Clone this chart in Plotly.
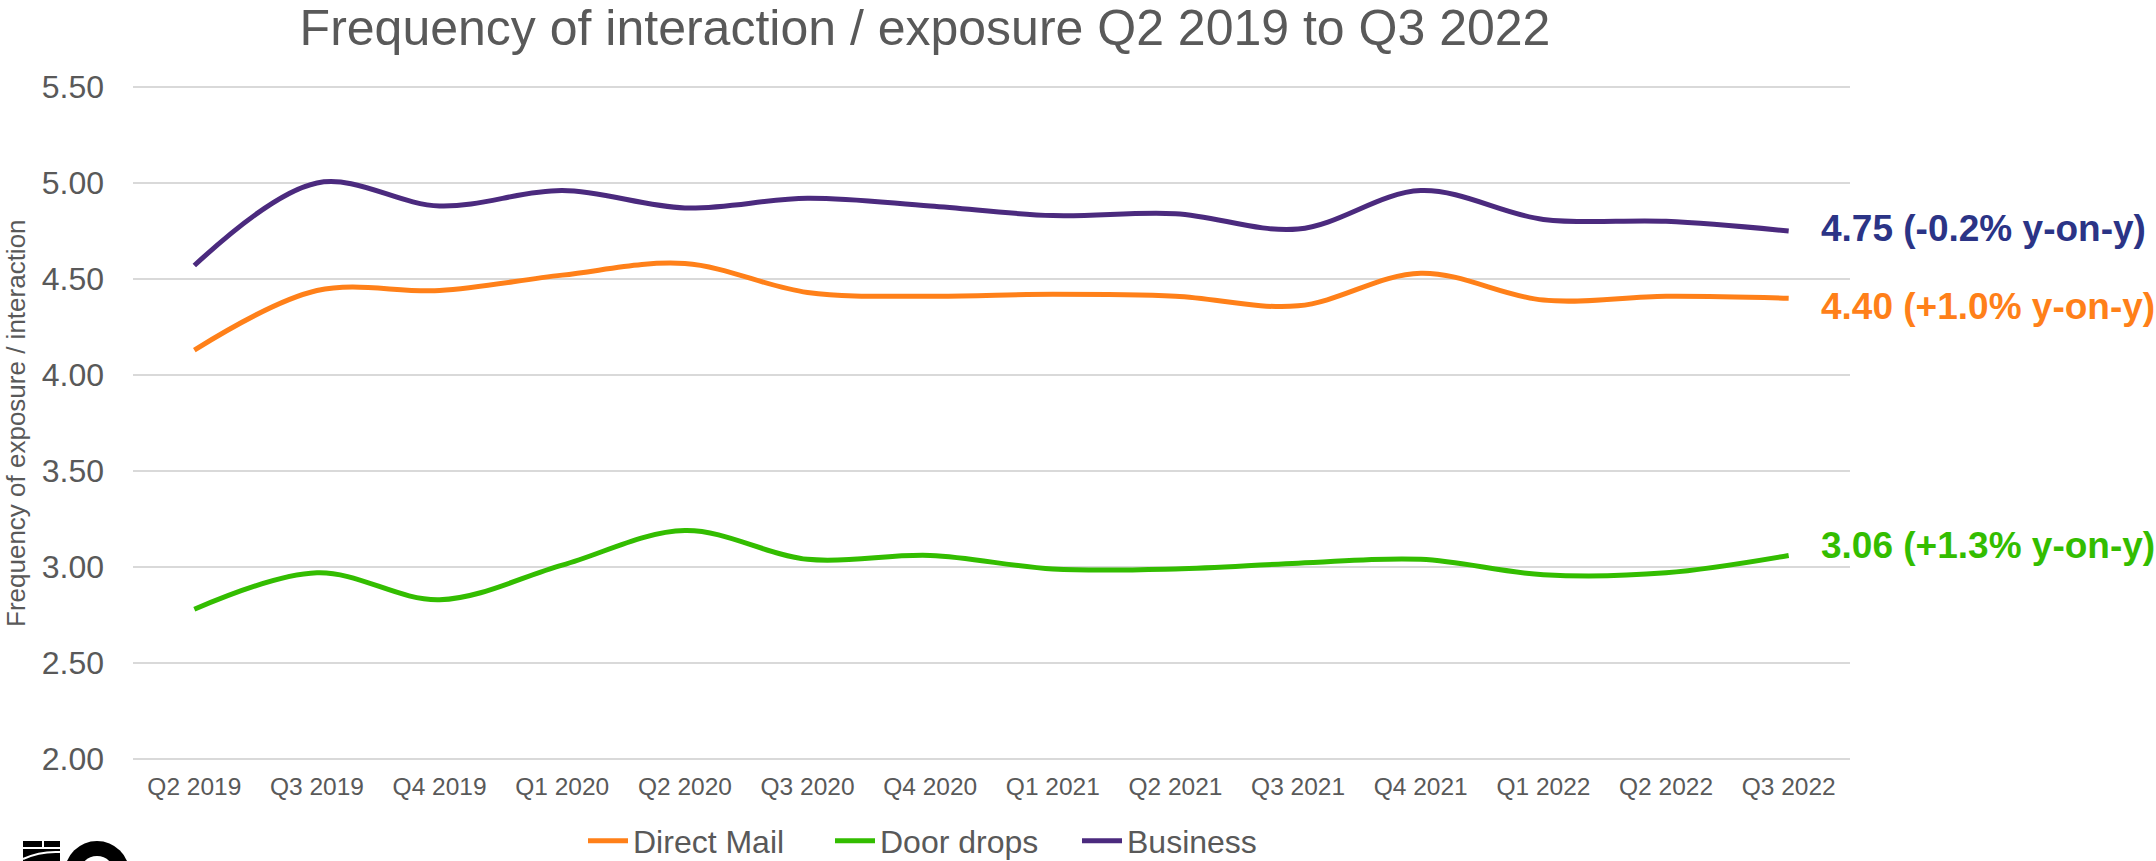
import plotly.graph_objects as go

# Quarterly frequency of interaction / exposure
quarters = ["Q2 2019", "Q3 2019", "Q4 2019", "Q1 2020", "Q2 2020", "Q3 2020", "Q4 2020",
            "Q1 2021", "Q2 2021", "Q3 2021", "Q4 2021", "Q1 2022", "Q2 2022", "Q3 2022"]
direct_mail = [4.13, 4.44, 4.44, 4.52, 4.58, 4.43, 4.41, 4.42, 4.41, 4.36, 4.53, 4.39, 4.41, 4.40]
door_drops = [2.78, 2.97, 2.83, 3.01, 3.19, 3.04, 3.06, 2.99, 2.99, 3.02, 3.04, 2.96, 2.97, 3.06]
business = [4.57, 5.00, 4.88, 4.96, 4.87, 4.92, 4.88, 4.83, 4.84, 4.76, 4.96, 4.81, 4.80, 4.75]

yoy_labels = {"Business": "(-0.2% y-on-y)", "Direct Mail": "(+1.0% y-on-y)", "Door drops": "(+1.3% y-on-y)"}
y_ticks = [2.0, 2.5, 3.0, 3.5, 4.0, 4.5, 5.0, 5.5]

W, H = 2156, 861
L, R, T, B = 133, 306, 85, 100
PW, PH = W - L - R, H - T - B

FONT = "Liberation Sans, Arial, sans-serif"
GREY = "#595959"
ORANGE = "#FF8019"
GREEN = "#33BD00"
PURPLE = "#4B2A7E"
NAVY = "#2B3486"

series = [
    ("Direct Mail", direct_mail, ORANGE, ORANGE),
    ("Door drops", door_drops, GREEN, GREEN),
    ("Business", business, PURPLE, NAVY),
]

fig = go.Figure()
for name, vals, col, _ in series:
    fig.add_trace(go.Scatter(
        x=list(range(len(quarters))), y=vals, name=name, mode="lines",
        line=dict(color=col, width=5, shape="spline", smoothing=1.0),
        hoverinfo="skip",
    ))

# End-of-line value labels
yshift = {"Business": 2, "Direct Mail": -8, "Door drops": 10}
for name, vals, _, lab_col in series:
    fig.add_annotation(
        x=len(quarters) - 1, y=vals[-1], xref="x", yref="y",
        text=f"<b>{vals[-1]:.2f} {yoy_labels[name]}</b>",
        showarrow=False, xanchor="left", yanchor="middle",
        xshift=30, yshift=yshift[name],
        font=dict(family=FONT, size=37, color=lab_col),
    )


def px_x(p):
    return (p - L) / PW


def px_y(p):
    return (H - B - p) / PH


# Vertical axis title
fig.add_annotation(
    x=px_x(16), y=px_y(423), xref="paper", yref="paper",
    text="Frequency of exposure / interaction", textangle=-90,
    showarrow=False, xanchor="center", yanchor="middle",
    font=dict(family=FONT, size=26, color=GREY),
)

# Logo mark in the lower-left corner
shapes = [
    dict(type="rect", xref="paper", yref="paper", x0=px_x(23), x1=px_x(60), y0=px_y(861), y1=px_y(841),
         fillcolor="black", line=dict(width=0)),
    dict(type="line", xref="paper", yref="paper", x0=px_x(23), x1=px_x(60), y0=px_y(848), y1=px_y(848),
         line=dict(color="white", width=2)),
    dict(type="line", xref="paper", yref="paper", x0=px_x(43), x1=px_x(43), y0=px_y(841), y1=px_y(848),
         line=dict(color="white", width=2)),
    dict(type="path", xref="paper", yref="paper",
         path=f"M {px_x(23)},{px_y(859)} Q {px_x(40)},{px_y(851)} {px_x(60)},{px_y(852)}",
         line=dict(color="white", width=2)),
    dict(type="circle", xref="paper", yref="paper", x0=px_x(64.5), x1=px_x(129.5), y0=px_y(906), y1=px_y(841),
         fillcolor="black", line=dict(width=0)),
    dict(type="circle", xref="paper", yref="paper", x0=px_x(79.5), x1=px_x(114.5), y0=px_y(891), y1=px_y(856),
         fillcolor="white", line=dict(width=0)),
]

fig.update_layout(
    width=W, height=H,
    margin=dict(l=L, r=R, t=T, b=B, autoexpand=False),
    paper_bgcolor="white", plot_bgcolor="white",
    title=dict(text="Frequency of interaction / exposure Q2 2019 to Q3 2022",
               x=925 / W, xref="container", xanchor="center",
               y=1 - 27 / H, yref="container", yanchor="middle",
               font=dict(family=FONT, size=50, color=GREY)),
    xaxis=dict(
        range=[-0.5, len(quarters) - 0.5], automargin=False,
        tickmode="array", tickvals=list(range(len(quarters))), ticktext=quarters,
        showgrid=False, zeroline=False, showline=False, ticks="",
        tickfont=dict(family=FONT, size=24.5, color=GREY),
        ticklabelstandoff=8,
    ),
    yaxis=dict(
        range=[1.99, 5.51], automargin=False, tickmode="array", tickvals=y_ticks,
        ticktext=[f"{v:.2f}" for v in y_ticks],
        showgrid=True, gridcolor="#D9D9D9", gridwidth=2,
        zeroline=False, showline=False, ticks="",
        tickfont=dict(family=FONT, size=32, color=GREY),
        ticklabelstandoff=28,
    ),
    legend=dict(
        orientation="h", x=583 / W, xref="container", xanchor="left",
        y=1 - 841 / H, yref="container", yanchor="middle",
        font=dict(family=FONT, size=32, color=GREY),
        itemwidth=40, tracegroupgap=0, entrywidth=192,
    ),
    shapes=shapes,
    showlegend=True,
)

fig.write_html("out.html")
